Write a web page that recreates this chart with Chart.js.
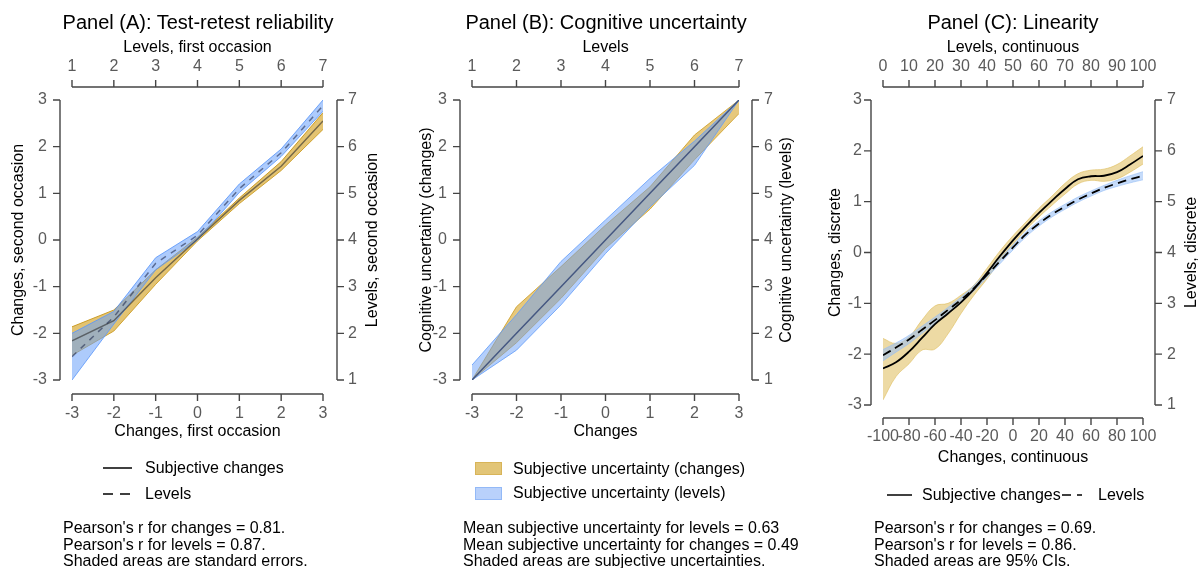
<!DOCTYPE html>
<html>
<head>
<meta charset="utf-8">
<script src="https://cdn.jsdelivr.net/npm/chart.js@4.4.1/dist/chart.umd.min.js"></script>
<style>
    body { margin: 0; background: #fff; font-family: "Liberation Sans", Arial, Helvetica, sans-serif; }
    #wrap { position: relative; width: 1201px; height: 568px; overflow: hidden; }
    canvas { position: absolute; top: 0; }
    .t { position: absolute; white-space: nowrap; color: #000; font-size: 16px; line-height: 20px; }
    .title { font-size: 20px; line-height: 24px; top: 10px; transform: translateX(-50%); }
    .note { font-size: 16px; line-height: 16.5px; }
    svg { position: absolute; overflow: visible; }
</style>
</head>
<body>
<div id="wrap">
    <canvas id="panelA" width="400" height="470" style="left:0"></canvas>
    <canvas id="panelB" width="400" height="470" style="left:400px"></canvas>
    <canvas id="panelC" width="401" height="470" style="left:800px"></canvas>

    <div class="t title" style="left:198px">Panel (A): Test-retest reliability</div>
    <div class="t title" style="left:606px">Panel (B): Cognitive uncertainty</div>
    <div class="t title" style="left:1013px">Panel (C): Linearity</div>

    <!-- legends -->
    <svg style="left:0;top:0" width="1201" height="568">
        <line x1="103" y1="468" x2="132" y2="468" stroke="#000" stroke-width="1.5"/>
        <line x1="103" y1="494" x2="132" y2="494" stroke="#000" stroke-width="1.5" stroke-dasharray="10,7"/>
        <rect x="475.5" y="462.5" width="26" height="12" fill="#e2c577" stroke="#d8b458"/>
        <rect x="475.5" y="487.5" width="26" height="12" fill="#b9d1fb" stroke="#93b9f7"/>
        <line x1="887" y1="495" x2="912" y2="495" stroke="#000" stroke-width="1.5"/>
        <line x1="1062" y1="495" x2="1082" y2="495" stroke="#000" stroke-width="1.5" stroke-dasharray="9,6"/>
    </svg>
    <div class="t" style="left:145px;top:458px">Subjective changes</div>
    <div class="t" style="left:145px;top:484px">Levels</div>
    <div class="t" style="left:513px;top:459px">Subjective uncertainty (changes)</div>
    <div class="t" style="left:513px;top:483px">Subjective uncertainty (levels)</div>
    <div class="t" style="left:922px;top:485px">Subjective changes</div>
    <div class="t" style="left:1098px;top:485px">Levels</div>

    <!-- notes -->
    <div class="t note" style="left:63px;top:520px">Pearson's r for changes = 0.81.<br>Pearson's r for levels = 0.87.<br>Shaded areas are standard errors.</div>
    <div class="t note" style="left:463px;top:520px">Mean subjective uncertainty for levels = 0.63<br>Mean subjective uncertainty for changes = 0.49<br>Shaded areas are subjective uncertainties.</div>
    <div class="t note" style="left:874px;top:520px">Pearson's r for changes = 0.69.<br>Pearson's r for levels = 0.86.<br>Shaded areas are 95% CIs.</div>
</div>

<script>
// ---- Panel A: test-retest (changes -3..3, levels 1..7)
const aChanges = [-3, -2, -1, 0, 1, 2, 3];
const aChgMean = [-2.16, -1.73, -0.81, 0.02, 0.85, 1.58, 2.55];
const aChgLo   = [-2.47, -1.95, -0.95, -0.02, 0.78, 1.49, 2.37];
const aChgHi   = [-1.86, -1.50, -0.64, 0.06, 0.90, 1.68, 2.73];
const aLevels  = [1, 2, 3, 4, 5, 6, 7];
const aLvlMean = [1.50, 2.35, 3.50, 4.10, 5.10, 5.87, 6.88];
const aLvlLo   = [1.00, 2.20, 3.36, 4.00, 5.02, 5.79, 6.76];
const aLvlHi   = [2.00, 2.47, 3.62, 4.18, 5.20, 5.95, 7.00];

// ---- Panel B: cognitive uncertainty
const bChanges = [-3, -2, -1, 0, 1, 2, 3];
const bDiag    = [-3, -2, -1, 0, 1, 2, 3];
const bChgLo   = [-3.00, -2.20, -1.25, -0.18, 0.66, 1.72, 2.71];
const bChgHi   = [-3.00, -1.43, -0.57, 0.32, 1.14, 2.25, 3.00];
const bLevels  = [1, 2, 3, 4, 5, 6, 7];
const bLvlLo   = [1.00, 1.64, 2.61, 3.71, 4.71, 5.60, 7.00];
const bLvlHi   = [1.32, 2.40, 3.54, 4.43, 5.32, 6.12, 7.00];

// ---- Panel C: linearity
const cChanges = [-100, -90, -80, -70, -60, -50, -40, -30, -20, -10, 0, 10, 20, 30, 40, 50, 60, 70, 80, 90, 100];
const cChgMean = [-2.28, -2.16, -1.95, -1.68, -1.41, -1.20, -0.98, -0.72, -0.40, -0.07, 0.24, 0.52, 0.78, 1.02, 1.25, 1.44, 1.50, 1.51, 1.58, 1.73, 1.90];
const cChgLo   = [-2.90, -2.44, -2.19, -1.92, -1.90, -1.60, -1.20, -0.84, -0.52, -0.16, 0.16, 0.45, 0.70, 0.93, 1.15, 1.35, 1.42, 1.40, 1.45, 1.58, 1.74];
const cChgHi   = [-1.69, -1.79, -1.66, -1.33, -1.05, -1.00, -0.84, -0.64, -0.31, 0.03, 0.33, 0.60, 0.87, 1.11, 1.36, 1.55, 1.62, 1.64, 1.73, 1.90, 2.08];
const cLevels  = [0, 5, 10, 15, 20, 25, 30, 35, 40, 45, 50, 55, 60, 65, 70, 75, 80, 85, 90, 95, 100];
const cLvlMean = [1.98, 2.13, 2.29, 2.48, 2.67, 2.87, 3.07, 3.30, 3.56, 3.83, 4.10, 4.36, 4.57, 4.75, 4.90, 5.04, 5.16, 5.27, 5.36, 5.44, 5.51];
const cLvlLo   = [1.87, 2.04, 2.21, 2.41, 2.61, 2.82, 3.02, 3.25, 3.51, 3.78, 4.05, 4.31, 4.52, 4.70, 4.85, 4.99, 5.11, 5.22, 5.30, 5.37, 5.43];
const cLvlHi   = [2.09, 2.22, 2.37, 2.55, 2.73, 2.92, 3.12, 3.35, 3.61, 3.88, 4.15, 4.41, 4.62, 4.80, 4.95, 5.09, 5.21, 5.32, 5.42, 5.51, 5.59];

const tickCol = '#5a5a5a';
const axisCol = '#454545';
Chart.defaults.font.family = '"Liberation Sans", Arial, Helvetica, sans-serif';
Chart.defaults.font.size = 16;

const pts = (xs, ys) => xs.map((x, i) => ({x: x, y: ys[i]}));

// R-style detached axes + right-side title (reads bottom to top)
const rAxes = {
    id: 'rAxes',
    afterDraw(chart, args, o) {
        const ctx = chart.ctx, a = chart.chartArea, TL = 7;
        ctx.save();
        ctx.strokeStyle = axisCol;
        ctx.lineWidth = 1.4;
        ['x', 'x2', 'y', 'y2'].forEach(id => {
            const s = chart.scales[id];
            const px = s.ticks.map(t => s.getPixelForValue(t.value));
            const lo = Math.min(...px), hi = Math.max(...px);
            ctx.beginPath();
            if (id === 'x') {
                const p = a.bottom + o.gap[3];
                ctx.moveTo(lo, p); ctx.lineTo(hi, p);
                px.forEach(v => { ctx.moveTo(v, p); ctx.lineTo(v, p + TL); });
            } else if (id === 'x2') {
                const p = a.top - o.gap[2];
                ctx.moveTo(lo, p); ctx.lineTo(hi, p);
                px.forEach(v => { ctx.moveTo(v, p); ctx.lineTo(v, p - TL); });
            } else if (id === 'y') {
                const p = a.left - o.gap[0];
                ctx.moveTo(p, lo); ctx.lineTo(p, hi);
                px.forEach(v => { ctx.moveTo(p, v); ctx.lineTo(p - TL, v); });
            } else {
                const p = a.right + o.gap[1];
                ctx.moveTo(p, lo); ctx.lineTo(p, hi);
                px.forEach(v => { ctx.moveTo(p, v); ctx.lineTo(p + TL, v); });
            }
            ctx.stroke();
        });
        ctx.translate(o.rightX, (a.top + a.bottom) / 2);
        ctx.rotate(-Math.PI / 2);
        ctx.fillStyle = '#000';
        ctx.font = '16px "Liberation Sans", Arial, sans-serif';
        ctx.textAlign = 'center';
        ctx.textBaseline = 'middle';
        ctx.fillText(o.rightTitle, 0, 0);
        ctx.restore();
    }
};

// upper edge fills down to the lower edge; higher order = drawn further below
function band(xs, lo, hi, xAxis, yAxis, fillCol, edgeCol, order, tension) {
    return [
        {data: pts(xs, hi), xAxisID: xAxis, yAxisID: yAxis, fill: '+1', backgroundColor: fillCol,
         borderColor: edgeCol, borderWidth: 1, pointRadius: 0, tension: tension, order: order},
        {data: pts(xs, lo), xAxisID: xAxis, yAxisID: yAxis, fill: false,
         borderColor: edgeCol, borderWidth: 1, pointRadius: 0, tension: tension, order: order}
    ];
}

function makePanel(id, p) {
    const H = 470;
    const scale = (pos, min, max, step, pad, extra) => Object.assign({
        type: 'linear', position: pos, min: min, max: max,
        ticks: {stepSize: step, padding: pad, color: tickCol, autoSkip: false, maxRotation: 0, minRotation: 0, font: {size: 16}},
        grid: {display: false, drawTicks: false}, border: {display: false}
    }, extra);
    return new Chart(document.getElementById(id), {
        type: 'line',
        data: {datasets: p.datasets},
        options: {
            responsive: false,
            animation: false,
            events: [],
            layout: {padding: 0},
            plugins: {
                legend: {display: false}, tooltip: {enabled: false}, title: {display: false},
                rAxes: {gap: p.gap, rightX: p.rightX, rightTitle: p.rightTitle}
            },
            scales: {
                x: scale('bottom', p.xMin, p.xMax, p.xStep, p.pad[3], {
                    title: {display: true, text: p.xTitle, color: '#000', font: {size: 16}, padding: {top: 0, bottom: p.xTitlePad}},
                    afterFit: s => { s.height = H - p.area.b; }
                }),
                x2: scale('top', p.x2Min, p.x2Max, p.x2Step, p.pad[2], {
                    title: {display: true, text: p.x2Title, color: '#000', font: {size: 16}, padding: {top: 38, bottom: 0}},
                    afterFit: s => { s.height = p.area.t; }
                }),
                y: scale('left', -3, 3, 1, p.pad[0], {
                    title: {display: true, text: p.yTitle, color: '#000', font: {size: 16}, padding: {top: p.yTitlePad, bottom: 0}},
                    afterFit: s => { s.width = p.area.l; }
                }),
                y2: scale('right', 1, 7, 1, p.pad[1], {
                    afterFit: s => { s.width = p.W - p.area.r; }
                })
            }
        },
        plugins: [rAxes]
    });
}

// Panel A
makePanel('panelA', {
    W: 400, area: {l: 72, r: 323, t: 100, b: 380},
    xMin: -3, xMax: 3, xStep: 1, x2Min: 1, x2Max: 7, x2Step: 1,
    pad: [25, 25, 24, 24], gap: [12, 14, 13, 14],
    xTitle: 'Changes, first occasion', xTitlePad: 29,
    x2Title: 'Levels, first occasion',
    yTitle: 'Changes, second occasion', yTitlePad: 9,
    rightTitle: 'Levels, second occasion', rightX: 373,
    datasets: [
        ...band(aChanges, aChgLo, aChgHi, 'x', 'y', 'rgba(214,166,45,0.68)', 'rgba(200,150,25,0.9)', 4, 0),
        ...band(aLevels, aLvlLo, aLvlHi, 'x2', 'y2', 'rgba(105,160,250,0.55)', 'rgba(90,150,250,0.85)', 3, 0),
        {data: pts(aChanges, aChgMean), xAxisID: 'x', yAxisID: 'y', borderColor: 'rgba(45,45,45,0.6)', borderWidth: 1.5, pointRadius: 0, fill: false, order: 1},
        {data: pts(aLevels, aLvlMean), xAxisID: 'x2', yAxisID: 'y2', borderColor: 'rgba(35,45,80,0.6)', borderWidth: 1.5, borderDash: [6, 6], pointRadius: 0, fill: false, order: 0}
    ]
});

// Panel B
makePanel('panelB', {
    W: 400, area: {l: 72, r: 339, t: 100, b: 380},
    xMin: -3, xMax: 3, xStep: 1, x2Min: 1, x2Max: 7, x2Step: 1,
    pad: [25, 25, 24, 24], gap: [12, 13, 13, 14],
    xTitle: 'Changes', xTitlePad: 29,
    x2Title: 'Levels',
    yTitle: 'Cognitive uncertainty (changes)', yTitlePad: 17,
    rightTitle: 'Cognitive uncertainty (levels)', rightX: 387,
    datasets: [
        ...band(bChanges, bChgLo, bChgHi, 'x', 'y', 'rgba(214,166,45,0.62)', 'rgba(205,155,30,0.8)', 4, 0),
        ...band(bLevels, bLvlLo, bLvlHi, 'x2', 'y2', 'rgba(105,160,250,0.5)', 'rgba(95,155,250,0.8)', 3, 0),
        {data: pts(bChanges, bDiag), xAxisID: 'x', yAxisID: 'y', borderColor: 'rgba(45,65,115,0.8)', borderWidth: 1.5, pointRadius: 0, fill: false, order: 0}
    ]
});

// Panel C
makePanel('panelC', {
    W: 401, area: {l: 83, r: 343, t: 100, b: 405},
    xMin: -100, xMax: 100, xStep: 20, x2Min: 0, x2Max: 100, x2Step: 10,
    pad: [21, 24, 24, 22], gap: [12, 12, 13, 13],
    xTitle: 'Changes, continuous', xTitlePad: 3,
    x2Title: 'Levels, continuous',
    yTitle: 'Changes, discrete', yTitlePad: 26,
    rightTitle: 'Levels, discrete', rightX: 392,
    datasets: [
        ...band(cChanges, cChgLo, cChgHi, 'x', 'y', 'rgba(222,188,90,0.55)', 'rgba(222,188,90,0.6)', 4, 0.4),
        ...band(cLevels, cLvlLo, cLvlHi, 'x2', 'y2', 'rgba(150,190,245,0.55)', 'rgba(150,190,245,0.6)', 3, 0.4),
        {data: pts(cChanges, cChgMean), xAxisID: 'x', yAxisID: 'y', borderColor: '#000', borderWidth: 1.8, pointRadius: 0, fill: false, tension: 0.4, order: 1},
        {data: pts(cLevels, cLvlMean), xAxisID: 'x2', yAxisID: 'y2', borderColor: '#000', borderWidth: 1.8, borderDash: [9, 5], pointRadius: 0, fill: false, tension: 0.4, order: 0}
    ]
});
</script>
</body>
</html>
